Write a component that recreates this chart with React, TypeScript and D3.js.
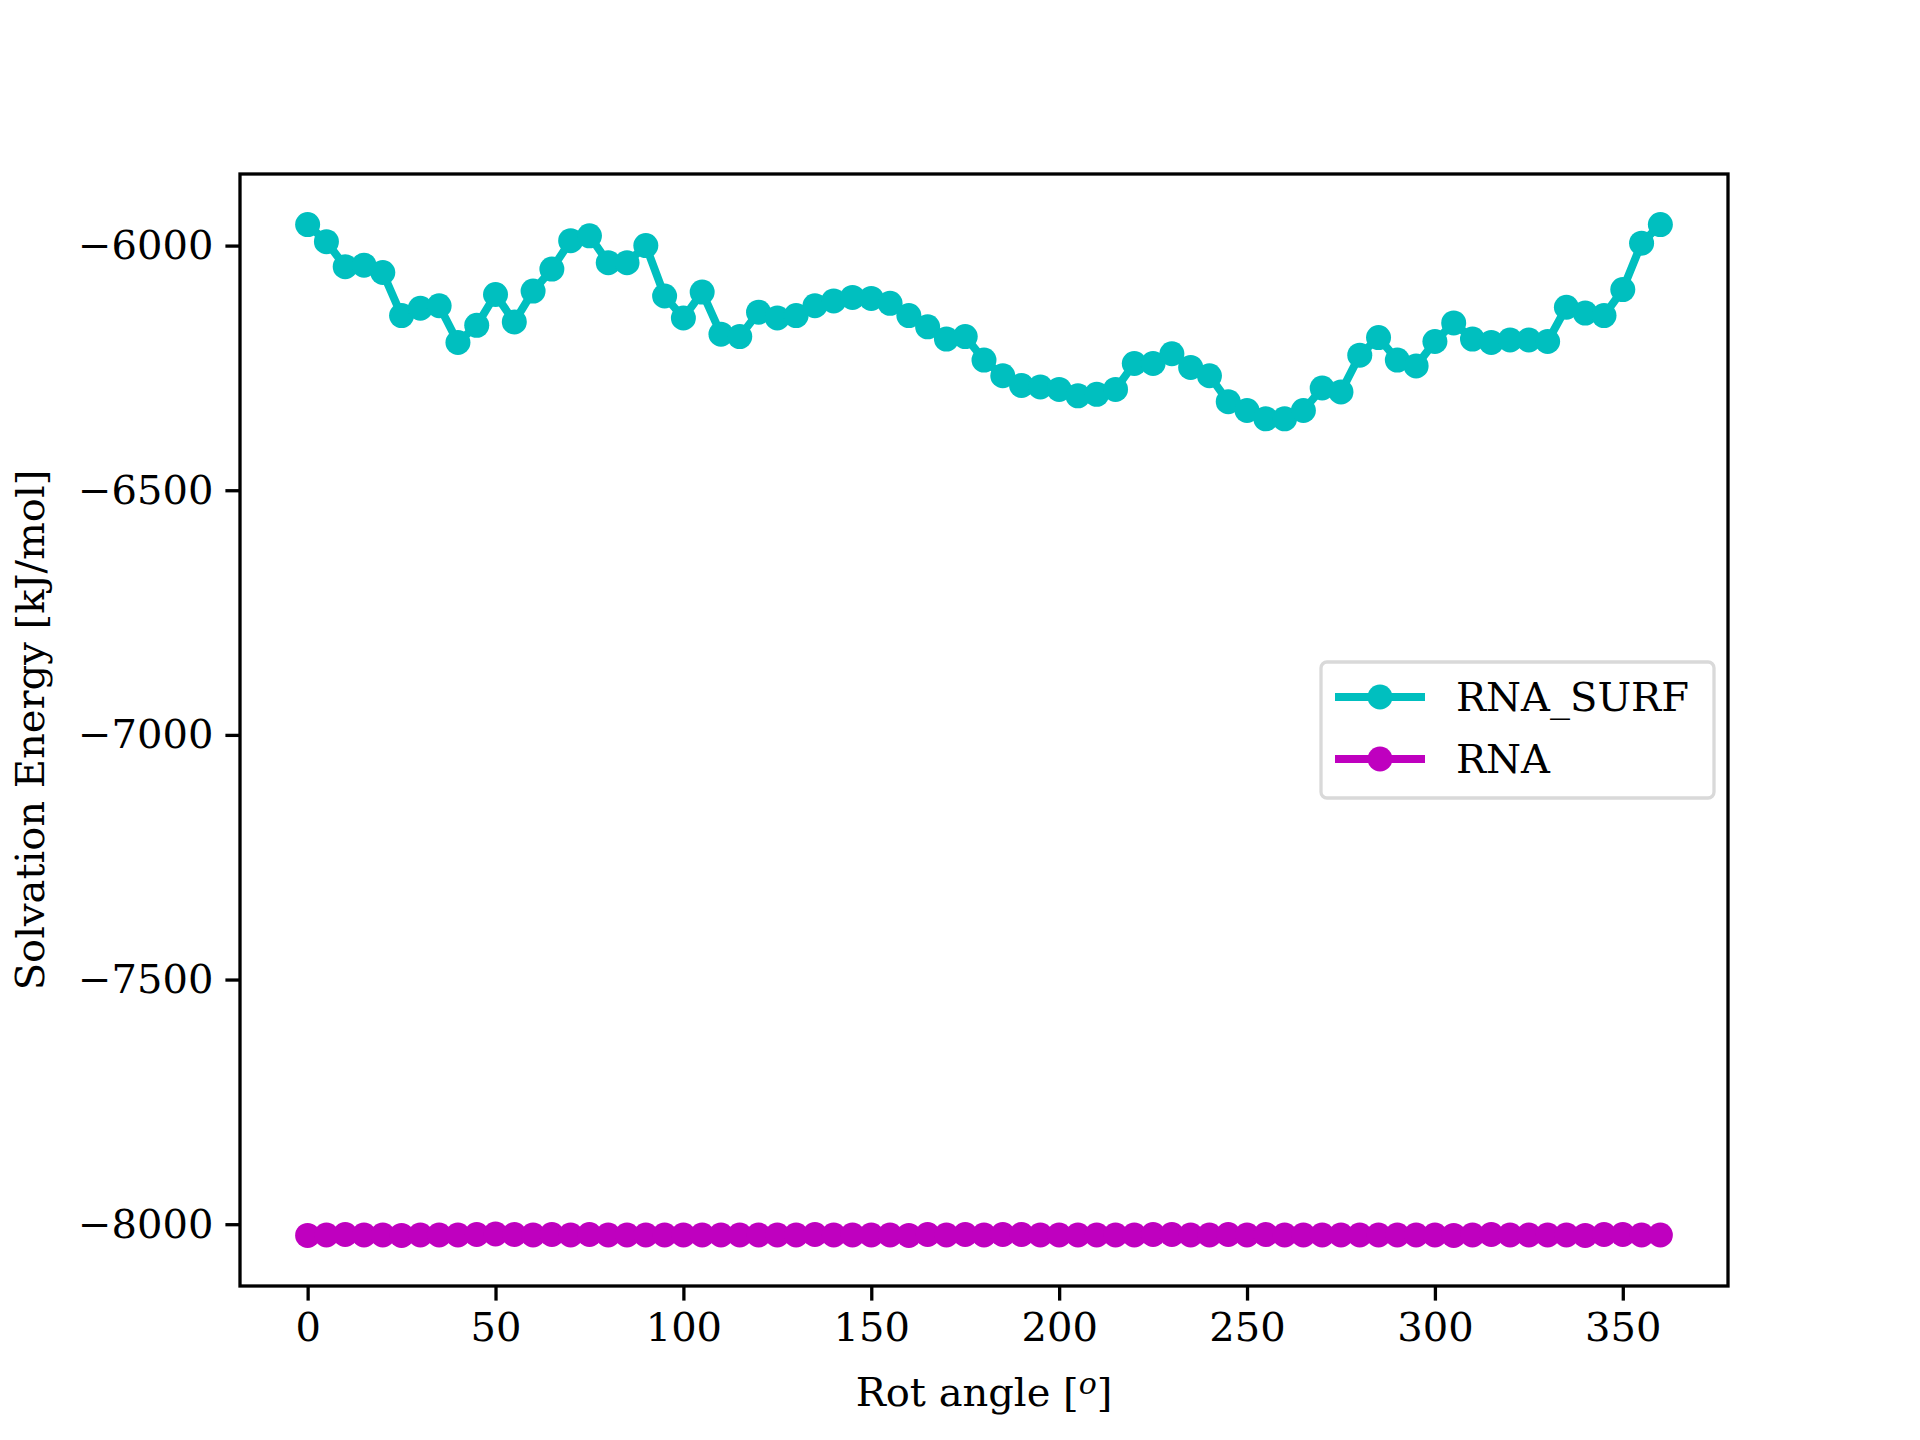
import * as d3 from "d3";
import { useRef, useEffect } from "react";

const angles = d3.range(0, 361, 5);
const rnaSurf = [
  -5957, -5992, -6043, -6040, -6055, -6143, -6128, -6123, -6198, -6163,
  -6100, -6156, -6093, -6048, -5990, -5980, -6035, -6035, -6000, -6103,
  -6148, -6095, -6181, -6186, -6136, -6148, -6143, -6123, -6113, -6106,
  -6108, -6118, -6143, -6166, -6191, -6186, -6234, -6266, -6286, -6289,
  -6294, -6307, -6304, -6294, -6241, -6241, -6221, -6249, -6266, -6319,
  -6337, -6354, -6354, -6337, -6291, -6299, -6224, -6188, -6234, -6246,
  -6196, -6158, -6191, -6198, -6193, -6193, -6196, -6126, -6138, -6143,
  -6090, -5995, -5957,
];
const rna = [
  -8023, -8022, -8021, -8022, -8022, -8023, -8022, -8022, -8022, -8021,
  -8020, -8021, -8022, -8021, -8022, -8021, -8022, -8022, -8022, -8022,
  -8022, -8022, -8022, -8022, -8022, -8022, -8022, -8021, -8022, -8022,
  -8022, -8022, -8023, -8021, -8022, -8021, -8022, -8021, -8021, -8022,
  -8022, -8022, -8022, -8022, -8022, -8021, -8021, -8022, -8022, -8021,
  -8022, -8021, -8022, -8022, -8022, -8022, -8022, -8022, -8022, -8022,
  -8022, -8023, -8022, -8021, -8022, -8022, -8022, -8022, -8023, -8021,
  -8021, -8022, -8022,
];
const xTicks = [0, 50, 100, 150, 200, 250, 300, 350];
const yTicks = [-8000, -7500, -7000, -6500, -6000];
const series = [
  { name: "RNA_SURF", values: rnaSurf, color: "#00bfbf" },
  { name: "RNA", values: rna, color: "#bf00bf" },
];

export default function App() {
  const ref = useRef<SVGSVGElement>(null);

  useEffect(() => {
    document.body.style.margin = "0";
    const svg = d3.select(ref.current);
    svg.selectAll("*").remove();
    const W = 1920, H = 1440;
    const left = 240, right = 1728, top = 174, bottom = 1286;
    const font = "DejaVu Serif";

    const all = [...rnaSurf, ...rna];
    const [ymin, ymax] = d3.extent(all) as [number, number];
    const pad = (ymax - ymin) * 0.05;
    const x = d3.scaleLinear().domain([-18, 378]).range([left, right]);
    const y = d3.scaleLinear().domain([ymin - pad, ymax + pad]).range([bottom, top]);

    svg.append("rect").attr("width", W).attr("height", H).attr("fill", "white");

    const line = d3.line<number>().x((_, i) => x(angles[i])).y((d) => y(d));
    series.forEach((s) => {
      const g = svg.append("g");
      g.append("path")
        .datum(s.values)
        .attr("d", line)
        .attr("fill", "none")
        .attr("stroke", s.color)
        .attr("stroke-width", 8)
        .attr("stroke-linejoin", "round");
      g.selectAll("circle")
        .data(s.values)
        .enter()
        .append("circle")
        .attr("cx", (_, i) => x(angles[i]))
        .attr("cy", (d) => y(d))
        .attr("r", 12.5)
        .attr("fill", s.color);
    });

    // axes frame
    svg.append("rect")
      .attr("x", left).attr("y", top)
      .attr("width", right - left).attr("height", bottom - top)
      .attr("fill", "none").attr("stroke", "black").attr("stroke-width", 3.3);

    const xa = svg.append("g")
      .attr("transform", `translate(0,${bottom})`)
      .call(d3.axisBottom(x).tickValues(xTicks).tickSize(14.6).tickPadding(12).tickFormat(d3.format("d")));
    xa.select(".domain").remove();
    xa.selectAll("line").attr("stroke-width", 3.3);
    xa.selectAll("text").attr("font-family", font).attr("font-size", 40).attr("fill", "black");

    const ya = svg.append("g")
      .attr("transform", `translate(${left},0)`)
      .call(d3.axisLeft(y).tickValues(yTicks).tickSize(14.6).tickPadding(12).tickFormat((d) => d3.format("d")(d as number).replace("-", "\u2212")));
    ya.select(".domain").remove();
    ya.selectAll("line").attr("stroke-width", 3.3);
    ya.selectAll("text").attr("font-family", font).attr("font-size", 40).attr("fill", "black");

    svg.append("text")
      .attr("x", (left + right) / 2).attr("y", 1406)
      .attr("text-anchor", "middle")
      .attr("font-family", font).attr("font-size", 40)
      .text("Rot angle [");
    // rebuild x label with superscript-like italic o
    svg.selectAll("text").filter(function () { return d3.select(this).text() === "Rot angle ["; }).remove();
    const xl = svg.append("text")
      .attr("x", (left + right) / 2).attr("y", 1406)
      .attr("text-anchor", "middle")
      .attr("font-family", font).attr("font-size", 40);
    xl.append("tspan").text("Rot angle [");
    xl.append("tspan").attr("font-style", "italic").attr("font-size", 30).attr("dy", -12).text("o");
    xl.append("tspan").attr("dy", 12).text("]");

    svg.append("text")
      .attr("transform", `translate(44,${(top + bottom) / 2}) rotate(-90)`)
      .attr("text-anchor", "middle")
      .attr("font-family", font).attr("font-size", 40)
      .text("Solvation Energy [kJ/mol]");

    // legend
    const lg = svg.append("g");
    lg.append("rect")
      .attr("x", 1321).attr("y", 662).attr("width", 393).attr("height", 136)
      .attr("rx", 6).attr("fill", "white").attr("fill-opacity", 0.8)
      .attr("stroke", "#d9d9d9").attr("stroke-width", 3.3);
    series.forEach((s, i) => {
      const cy = 697 + i * 62;
      lg.append("line")
        .attr("x1", 1335).attr("x2", 1425).attr("y1", cy).attr("y2", cy)
        .attr("stroke", s.color).attr("stroke-width", 8);
      lg.append("circle").attr("cx", 1380).attr("cy", cy).attr("r", 12.5).attr("fill", s.color);
      lg.append("text")
        .attr("x", 1456).attr("y", cy).attr("dy", "0.35em")
        .attr("font-family", font).attr("font-size", 40)
        .text(s.name);
    });
  }, []);

  return <svg ref={ref} width={1920} height={1440} style={{ display: "block" }} />;
}
